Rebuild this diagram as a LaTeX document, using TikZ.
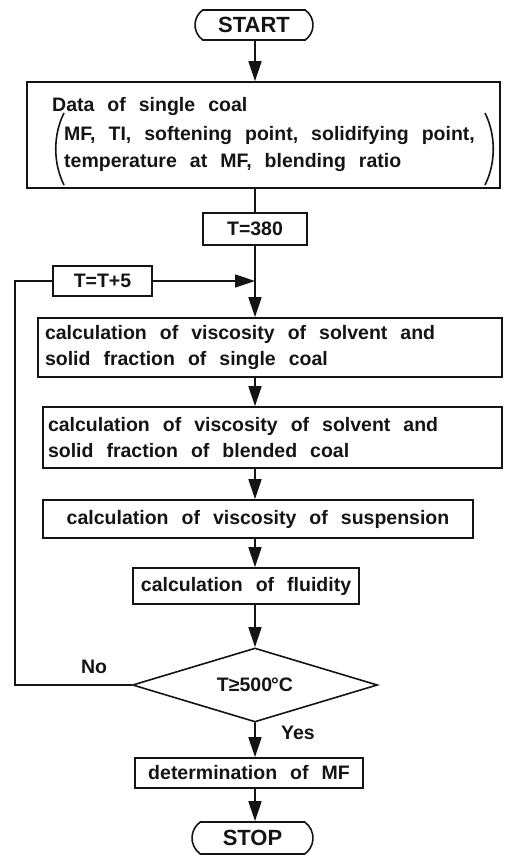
\documentclass[tikz,border=0pt]{standalone}
\usepackage{fontspec}
\setmainfont{Liberation Sans}[WordSpace=2.4]
\usetikzlibrary{arrows.meta, shapes.geometric, shapes.misc, calc}
\definecolor{ink}{HTML}{141414}
\newcommand{\flowfont}{\fontsize{19.5}{26}\selectfont\bfseries}
\newcommand{\termfont}{\fontsize{22}{26}\selectfont\bfseries}
\tikzset{fl/.style={ink, line width=1.6pt},
  flow/.style={fl, line cap=round, -{Triangle[length=20pt, width=13pt]}},
  box/.style={fl, draw, rectangle, inner sep=0pt, font=\flowfont, execute at begin node={\spaceskip=0.667em\relax}},
  term/.style={fl, draw, rounded rectangle, rounded rectangle arc length=110, inner sep=0pt, font=\termfont},
  test/.style={fl, draw, diamond, aspect=3.3, inner sep=0pt, font=\flowfont},
  lbl/.style={ink, inner sep=0pt, font=\flowfont}}

\begin{document}
\begin{tikzpicture}[x=1pt, y=-1pt]
  \useasboundingbox (0,0) rectangle (504,859);
  \coordinate (spine) at (255,0);
  \coordinate (loop) at (15,0);
  \node[term, minimum width=118pt, minimum height=30pt] (start) at (254,25) {START};
  \node[box, minimum width=473pt, minimum height=106pt, align=left] (data) at (263.5,135)
     {Data of single coal\\[2pt]\hspace*{12pt}MF, TI, softening point, solidifying point,\\[2pt]\hspace*{12pt}temperature at MF, blending ratio};
  \draw[fl] (64,113) .. controls (53,135) and (53,163) .. (64,185);
  \draw[fl] (485,113) .. controls (496,135) and (496,163) .. (485,185);
  \node[box, minimum width=104pt, minimum height=32pt] (tinit) at (255,229) {T=380};
  \node[box, minimum width=99pt, minimum height=30pt] (tinc) at (102.5,281) {T=T+5};
  \node[box, minimum width=464pt, minimum height=59pt, text width=450pt, align=left] (single) at (270,347.5)
     {calculation of viscosity of solvent and\\solid fraction of single coal};
  \node[box, minimum width=459pt, minimum height=61pt, text width=449pt, align=left] (blend) at (272.5,437.5)
     {calculation of viscosity of solvent and\\solid fraction of blended coal};
  \node[box, minimum width=430pt, minimum height=38pt] (susp) at (258,519) {calculation of viscosity of suspension};
  \node[box, minimum width=226pt, minimum height=36pt] (fluid) at (246,586) {calculation of fluidity};
  \node[test, minimum width=245pt, minimum height=74pt] (check) at (255,685) {T≥500\kern-1pt°C};
  \node[box, minimum width=228pt, minimum height=30pt] (determ) at (249,773) {determination of MF};
  \node[term, minimum width=121pt, minimum height=32pt] (stop) at (252.5,838) {STOP};
  \node[lbl] (no) at (94,667) {No};
  \node[lbl] (yes) at (298,733) {Yes};

  \draw[flow] (spine |- start.south) -- (spine |- data.north);
  \draw[fl] (spine |- data.south) -- (spine |- tinit.north);
  \draw[flow] (spine |- tinit.south) -- (spine |- single.north);
  \draw[flow] (tinc.east) -- (tinc.east -| spine);
  \draw[fl] (check.west) -- (check.west -| loop) |- (tinc.west);
  \foreach \a/\b in {single/blend, blend/susp, susp/fluid}
     \draw[flow] (spine |- \a.south) -- (spine |- \b.north);
  \draw[flow] (spine |- fluid.south) -- (check.north);
  \draw[flow] (check.south) -- (spine |- determ.north);
  \draw[flow] (spine |- determ.south) -- (spine |- stop.north);
\end{tikzpicture}
\end{document}
